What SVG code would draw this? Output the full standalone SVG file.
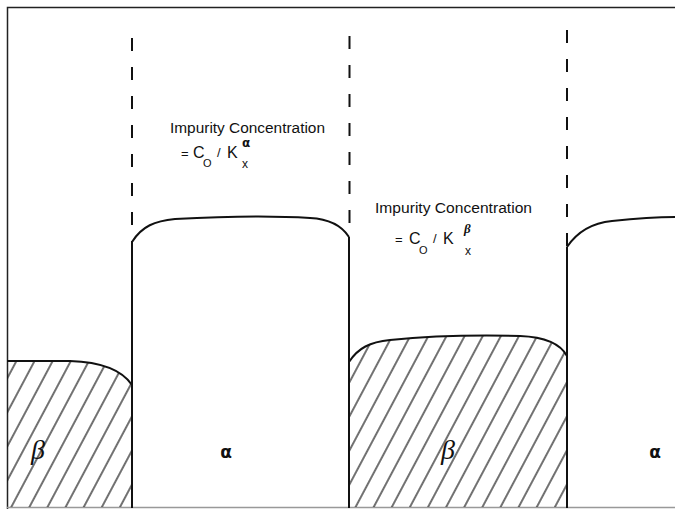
<svg xmlns="http://www.w3.org/2000/svg" width="675" height="509" viewBox="0 0 675 509">
<style>
.frame{fill:none;stroke:#222;stroke-width:1.5}
.dash{fill:none;stroke:#111;stroke-width:2;stroke-dasharray:13 16}
.solid{fill:none;stroke:#111;stroke-width:2}
.curve{fill:none;stroke:#111;stroke-width:2}
.lbl{font-family:"Liberation Sans",Arial,sans-serif;font-size:14px;fill:#111}
.sym{font-family:"Liberation Sans",Arial,sans-serif;fill:#111}
.beta{font-family:"Liberation Serif","DejaVu Serif",serif;font-style:italic;font-size:28px;fill:#111}
.alpha{font-family:"DejaVu Sans",sans-serif;font-weight:bold;font-size:17px;fill:#111}
</style>
<defs>
<pattern id="hatch" patternUnits="userSpaceOnUse" width="16" height="16" patternTransform="rotate(28)">
<line x1="8" y1="0" x2="8" y2="16" stroke="#111" stroke-width="1.2"/>
</pattern>
</defs>
<rect width="675" height="509" fill="#fff"/>
<g id="frame">
<path class="frame" d="M7.5,509 L7.5,7.5 L675,7.5"/>
<path d="M7,507.5 L675,507.5" fill="none" stroke="#999" stroke-width="1.5"/>
</g>
<g id="beta-left">
<path d="M7,361 L70,361 C100,362 122,370 132,385 L132,507 L7,507 Z" fill="url(#hatch)"/>
<path class="curve" d="M7,361 L70,361 C100,362 122,370 132,385"/>
<text class="beta" x="38" y="459" text-anchor="middle">β</text>
</g>
<g id="alpha-left">
<path class="curve" d="M132,242 C142,226 155,221 175,219 C230,216 280,216 310,218 C330,219 342,226 349,237"/>
<text class="alpha" x="226" y="458" text-anchor="middle">α</text>
</g>
<g id="beta-middle">
<path d="M349,362 C358,348 370,342 390,340 C430,336 480,335 520,336 C545,337 560,343 567,356 L567,507 L349,507 Z" fill="url(#hatch)"/>
<path class="curve" d="M349,362 C358,348 370,342 390,340 C430,336 480,335 520,336 C545,337 560,343 567,356"/>
<text class="beta" x="448" y="459" text-anchor="middle">β</text>
</g>
<g id="alpha-right">
<path class="curve" d="M567,247 C577,232 592,223 612,221 C640,218 660,217 675,217"/>
<text class="alpha" x="655" y="458" text-anchor="middle">α</text>
</g>
<g id="boundaries">
<line class="dash" x1="132" y1="38" x2="132" y2="242"/>
<line class="solid" x1="132" y1="242" x2="132" y2="508"/>
<line class="dash" x1="349.5" y1="36" x2="349.5" y2="237"/>
<line class="solid" x1="349" y1="237" x2="349" y2="508"/>
<line class="dash" x1="567" y1="30" x2="567" y2="247"/>
<line class="solid" x1="567" y1="247" x2="567" y2="508"/>
</g>
<g id="label-alpha">
<text class="lbl" x="170" y="133" textLength="155" lengthAdjust="spacingAndGlyphs">Impurity Concentration</text>
<text class="sym" x="181" y="158" font-size="13">=</text>
<text class="sym" x="193" y="158" font-size="16">C</text>
<text class="sym" x="203" y="167" font-size="11">O</text>
<text class="sym" x="217" y="157" font-size="13">/</text>
<text class="sym" x="227" y="158" font-size="16">K</text>
<text font-family="DejaVu Sans,sans-serif" font-weight="bold" font-size="12" fill="#111" x="242" y="147">α</text>
<text class="sym" x="242" y="168" font-size="12">x</text>
</g>
<g id="label-beta">
<text class="lbl" x="375" y="213" textLength="157" lengthAdjust="spacingAndGlyphs">Impurity Concentration</text>
<text class="sym" x="395" y="244" font-size="13">=</text>
<text class="sym" x="409" y="244" font-size="16">C</text>
<text class="sym" x="419" y="254" font-size="11">O</text>
<text class="sym" x="433" y="243" font-size="13">/</text>
<text class="sym" x="443" y="244" font-size="16">K</text>
<text font-family="Liberation Serif,serif" font-style="italic" font-weight="bold" font-size="13" fill="#111" x="464" y="233">β</text>
<text class="sym" x="465" y="255" font-size="12">x</text>
</g>
</svg>
